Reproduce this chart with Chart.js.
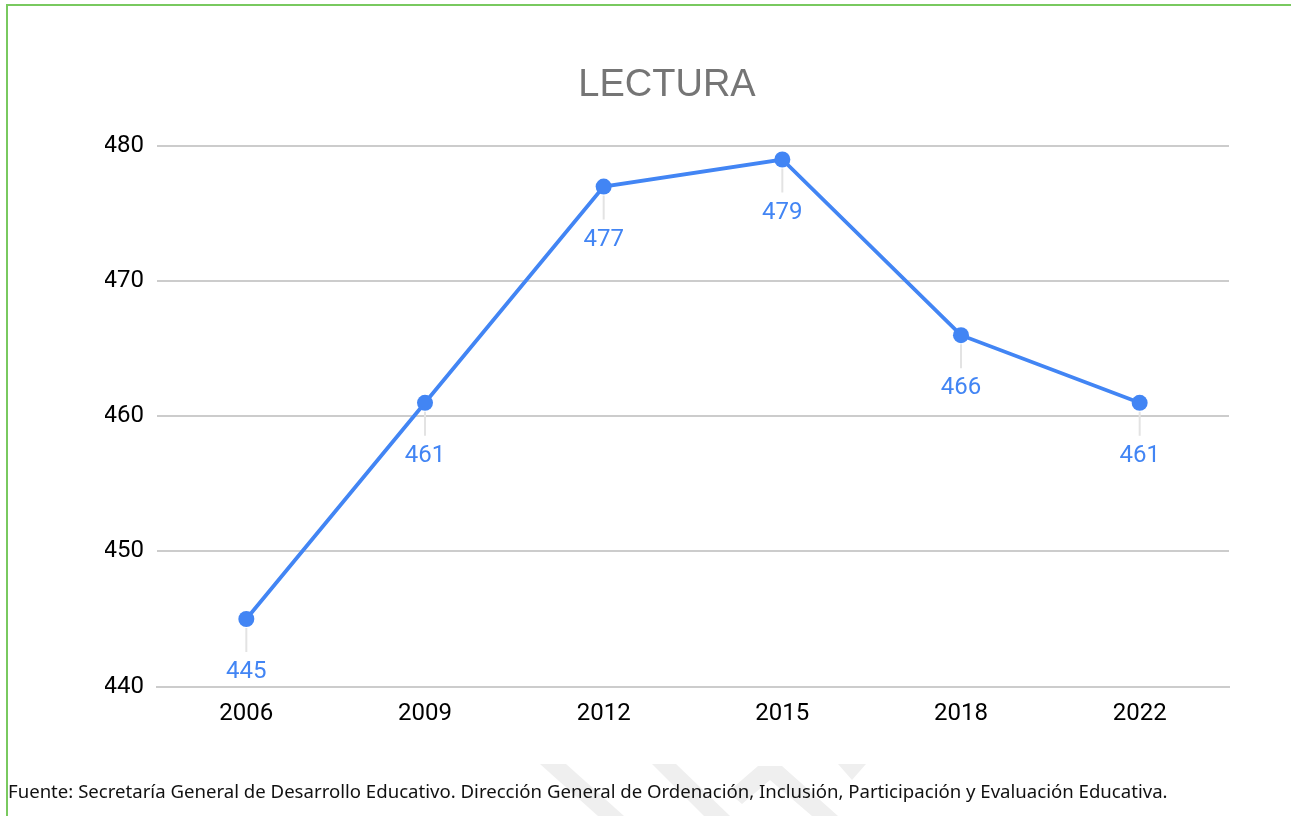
<!DOCTYPE html>
<html>
<head>
<meta charset="utf-8">
<script src="https://cdn.jsdelivr.net/npm/chart.js@4"></script>
<style>
  html, body { margin: 0; padding: 0; background: #fff; }
  #wrap { position: relative; width: 1291px; height: 816px; overflow: hidden; }
  #chart { position: absolute; left: 0; top: 0; }
  .edgeTop { position: absolute; left: 6px; top: 4px; width: 1285px; height: 1.5px; background: #79c95f; }
  .edgeLeft { position: absolute; left: 6px; top: 4px; width: 1.5px; height: 812px; background: #79c95f; }
  #fuente { position: absolute; left: 8px; top: 778px; font-family: "Noto Sans", sans-serif; font-size: 18.6px; color: #111; white-space: nowrap; }
  #marca { position: absolute; left: 0; top: 0; }
</style>
</head>
<body>
<div id="wrap">
  <svg id="marca" width="1291" height="816">
    <g fill="#efefef">
      <polygon points="540,764 566,764 624,816 598,816"/>
      <polygon points="652,764 676,764 730,816 704,816"/>
      <polygon points="728,792 758,766 782,766 838,816 812,816 770,780 742,804"/>
      <polygon points="838,764 866,764 852,780"/>
    </g>
  </svg>
  <canvas id="chart" width="1291" height="816"></canvas>
  <div class="edgeTop"></div>
  <div class="edgeLeft"></div>
  <div id="fuente">Fuente: Secretaría General de Desarrollo Educativo. Dirección General de Ordenación, Inclusión, Participación y Evaluación Educativa.</div>
</div>
<script>
// datos
const anios = ["2006", "2009", "2012", "2015", "2018", "2022"];
const lectura = [445, 461, 477, 479, 466, 461];
const titulo = "LECTURA";

const azul = "#4285F4";

// etiquetas de datos debajo de cada punto, con su linea guia
const etiquetas = {
  id: "etiquetas",
  afterDatasetsDraw(chart) {
    const ctx = chart.ctx;
    const meta = chart.getDatasetMeta(0);
    ctx.save();
    meta.data.forEach((p, i) => {
      ctx.strokeStyle = "#e3e3e3";
      ctx.lineWidth = 2;
      ctx.beginPath();
      ctx.moveTo(p.x, p.y + 9);
      ctx.lineTo(p.x, p.y + 33);
      ctx.stroke();
      ctx.fillStyle = azul;
      ctx.font = "24px Roboto";
      ctx.textAlign = "center";
      ctx.textBaseline = "middle";
      ctx.fillText(String(lectura[i]), p.x, p.y + 53);
    });
    ctx.restore();
  },
};

new Chart(document.getElementById("chart"), {
  type: "line",
  data: {
    labels: anios,
    datasets: [
      {
        data: lectura,
        borderColor: azul,
        backgroundColor: azul,
        borderWidth: 3.8,
        pointRadius: 8,
        pointHoverRadius: 8,
        pointBackgroundColor: azul,
        pointBorderWidth: 0,
        tension: 0,
        fill: false,
      },
    ],
  },
  options: {
    responsive: false,
    animation: false,
    layout: { padding: { left: 105, right: 62, top: 0, bottom: 74.6 } },
    plugins: {
      legend: { display: false },
      tooltip: { enabled: false },
      title: {
        display: true,
        text: titulo,
        color: "#757575",
        font: { family: "Liberation Sans", size: 38, weight: "normal" },
        padding: { top: 63, bottom: 37.4 },
      },
    },
    scales: {
      x: {
        offset: true,
        grid: { display: false, drawTicks: false },
        border: { display: true, color: "#cccccc", width: 2 },
        ticks: { color: "#000", padding: 13, font: { family: "Roboto", size: 24 } },
      },
      y: {
        min: 440,
        max: 480,
        afterFit(scale) { scale.width = 52; },
        grid: { color: "#cccccc", lineWidth: 2, drawTicks: false },
        border: { display: false },
        ticks: { stepSize: 10, color: "#000", padding: 13, font: { family: "Roboto", size: 24 } },
      },
    },
  },
  plugins: [etiquetas],
});
</script>
</body>
</html>
